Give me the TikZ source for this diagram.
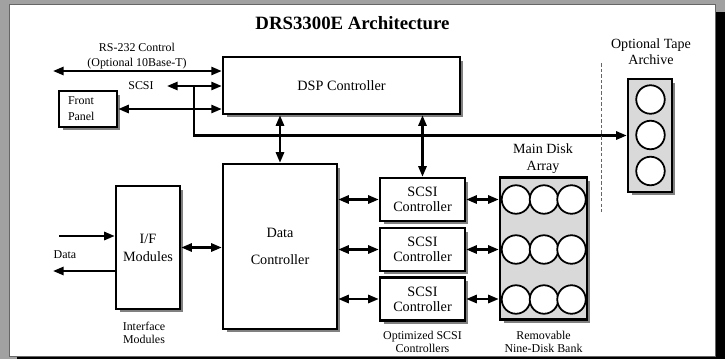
\documentclass[tikz,border=0pt]{standalone}
\usepackage{fontspec}
\setmainfont{Liberation Serif}
\usetikzlibrary{arrows.meta,shadows}

\begin{document}
\begin{tikzpicture}[x=0.02cm, y=-0.02cm, >={Triangle[length=6pt,width=4.6pt]},
    blk/.style={draw, line width=1.4pt, fill=white, align=center, inner sep=0pt,
      drop shadow={shadow xshift=0.07cm, shadow yshift=-0.07cm, fill=black!50, opacity=1},
      font=\fontsize{8.1}{10}\selectfont},
    disk/.style={circle, draw, line width=1pt, fill=white, inner sep=0pt, minimum size=0.57cm},
    lbl/.style={align=center, inner sep=0pt, font=\fontsize{6.8}{7.6}\selectfont},
    biglbl/.style={align=center, inner sep=0pt, font=\fontsize{8}{9.2}\selectfont},
    link/.style={line width=1.3pt}]
      \useasboundingbox (0,0) rectangle (725,359);

      % Frame
      \fill[black!37] (0,0) rectangle (725,359);
      \fill[black] (17,12) rectangle (725,359);
      \filldraw[fill=white, draw=black!60, line width=0.5pt] (9,4) rectangle (715,356);

      \node[font=\fontsize{10.7}{13}\selectfont\bfseries, inner sep=0pt] (title) at (352.5,23.5) {DRS3300E Architecture};

      % Controllers
      \node[blk, minimum width=4.74cm, minimum height=1.14cm] (dsp) at (341.5,85.5) {DSP Controller};
      \node[blk, font=\fontsize{6.8}{9}\selectfont, minimum width=1.16cm, minimum height=0.72cm,
        text width=0.8cm, align=left, inner xsep=0.18cm] (front) at (88,109) {Front\\Panel};
      \node[blk, font=\fontsize{8.1}{15}\selectfont, minimum width=2.28cm, minimum height=3.3cm] (dc) at (280,246.5) {Data\\Controller};
      \node[blk, font=\fontsize{8.1}{10.2}\selectfont, minimum width=1.28cm, minimum height=2.46cm] (ifm) at (148,247.5) {I/F\\Modules};

      % SCSI controllers
      \node[blk, font=\fontsize{8.1}{8.6}\selectfont, minimum width=1.7cm, minimum height=0.86cm] (scsi1) at (422.5,199.5) {SCSI\\Controller};
      \node[blk, font=\fontsize{8.1}{8.6}\selectfont, minimum width=1.7cm, minimum height=0.86cm] (scsi2) at (422.5,249.5) {SCSI\\Controller};
      \node[blk, font=\fontsize{8.1}{8.6}\selectfont, minimum width=1.7cm, minimum height=0.86cm] (scsi3) at (422.5,299) {SCSI\\Controller};

      % Disk bank and tape archive
      \node[blk, fill=black!15, minimum width=1.74cm, minimum height=2.84cm] (bank) at (543.5,248.5) {};
      \node[blk, fill=black!15, minimum width=0.88cm, minimum height=2.26cm] (tape) at (650,135.5) {};

      % First row of disks
      \node[disk] (d11) at (516,199.5) {};
      \node[disk] (d12) at (544,199.5) {};
      \node[disk] (d13) at (571.5,199.5) {};
      % Second row of disks
      \node[disk] (d21) at (516,249.5) {};
      \node[disk] (d22) at (544,249.5) {};
      \node[disk] (d23) at (571.5,249.5) {};
      % Third row of disks
      \node[disk] (d31) at (516,299.5) {};
      \node[disk] (d32) at (544,299.5) {};
      \node[disk] (d33) at (571.5,299.5) {};
      % Tapes
      \node[disk] (t1) at (650.5,99.5) {};
      \node[disk] (t2) at (650.5,135) {};
      \node[disk] (t3) at (650.5,171) {};

      % Labels
      \node[lbl, font=\fontsize{6.8}{8.5}\selectfont] (rslbl) at (137,56) {RS-232 Control\\(Optional 10Base-T)};
      \node[lbl] (scsilbl) at (141,86) {SCSI};
      \node[lbl] (datalbl) at (65,254.5) {Data};
      \node[lbl] (iflbl) at (144,333) {Interface\\Modules};
      \node[lbl] (optlbl) at (422.5,342) {Optimized SCSI\\Controllers};
      \node[lbl] (banklbl) at (543.5,342) {Removable\\Nine-Disk Bank};
      \node[biglbl, font=\fontsize{8}{9.6}\selectfont] (mainlbl) at (543,159) {Main Disk\\Array};
      \node[biglbl] (tapelbl) at (651,52) {Optional Tape\\Archive};

      % Free ends
      \coordinate (rsEnd) at (53,71);
      \coordinate (scsiEnd) at (167,86);
      \coordinate (tap) at (194,86);
      \coordinate (dataIn) at (59,236);
      \coordinate (dataOut) at (53,271);
      \coordinate (dashTop) at (601,63);
      \coordinate (dashBot) at (601,212);

      % Arrows
      \draw[link,<->] (rsEnd) -- (rsEnd -| dsp.west);
      \draw[link,<->] (scsiEnd) -- (scsiEnd -| dsp.west);
      \draw[link,<->] (front.east) -- (front.east -| dsp.west);
      \draw[link,->] (tap) |- (tape.west);
      \draw[link,<->] (dsp.south -| dc.north) -- (dc.north);
      \draw[link,<->] (dsp.south -| scsi1.north) -- (scsi1.north);
      \draw[link,->] (dataIn) -- (dataIn -| ifm.west);
      \draw[link,->] (dataOut -| ifm.west) -- (dataOut);
      \draw[link,<->] (ifm.east) -- (ifm.east -| dc.west);
      \draw[link,<->] (scsi1.west -| dc.east) -- (scsi1.west);
      \draw[link,<->] (scsi2.west -| dc.east) -- (scsi2.west);
      \draw[link,<->] (scsi3.west -| dc.east) -- (scsi3.west);
      \draw[link,<->] (scsi1.east) -- (scsi1.east -| bank.west);
      \draw[link,<->] (scsi2.east) -- (scsi2.east -| bank.west);
      \draw[link,<->] (scsi3.east) -- (scsi3.east -| bank.west);
      \draw[black!60, line width=0.5pt, dash pattern=on 2pt off 1.2pt] (dashTop) -- (dashBot);
    \end{tikzpicture}
\end{document}
